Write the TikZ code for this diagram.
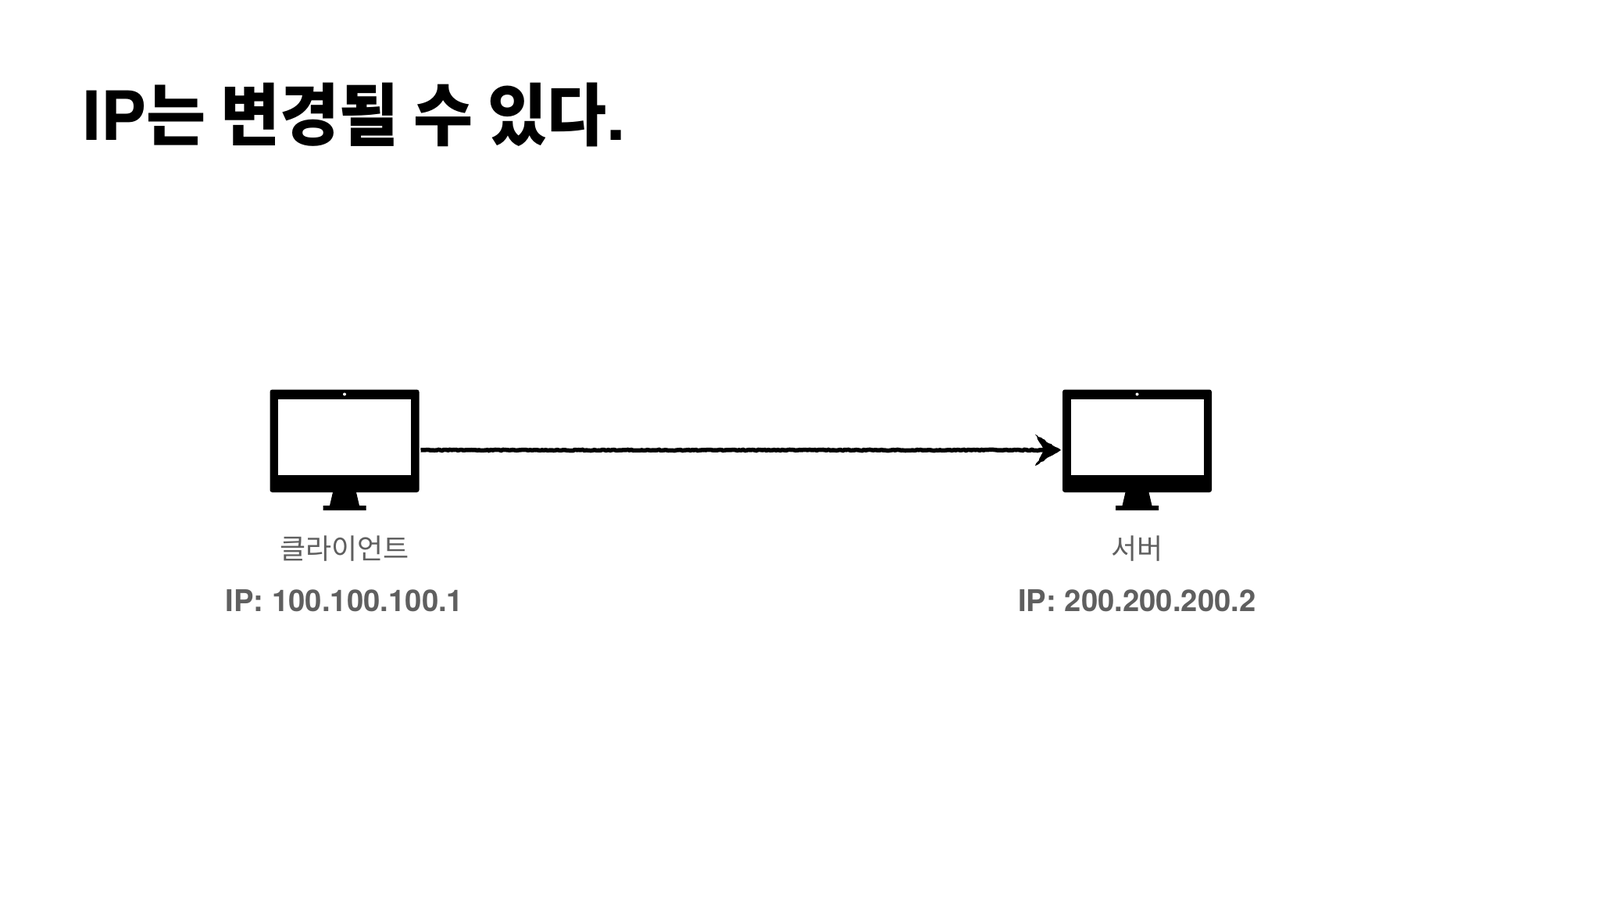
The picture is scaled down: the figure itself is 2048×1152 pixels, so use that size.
\documentclass[tikz,border=0pt]{standalone}
\usepackage{fontspec}
\setmainfont{TeX Gyre Heros}
\newfontfamily\cjk{Noto Sans CJK KR}
\newfontfamily\cjktight[FakeStretch=0.95]{Noto Sans CJK KR}
\usetikzlibrary{decorations.pathmorphing,calc}
\definecolor{labelgray}{HTML}{5F5F5F}
\tikzset{
  x=1pt,y=-1pt,
  monitorbox/.style={minimum width=191pt,minimum height=132pt,inner sep=0pt,outer sep=0pt},
  titletext/.style={anchor=base west,inner sep=0pt,font=\fontsize{87}{87}\selectfont\bfseries},
  nametext/.style={anchor=base,inner sep=0pt,text=labelgray,font=\fontsize{36}{36}\selectfont\cjk},
  iptext/.style={anchor=base,inner sep=0pt,text=labelgray,font=\fontsize{38.3}{38.3}\selectfont\bfseries},
  sketchline/.style={line width=5.5pt,black,decorate,decoration={random steps,segment length=2.5pt,amplitude=0.6pt}},
}
\newcommand{\monitorshape}[1]{%
  \begin{scope}[shift={(#1)}]
    \fill[black,rounded corners=3pt] (-95.5,-65.5) rectangle (95.5,66);
    \fill[white] (-85,-53) rectangle (85,43.5);
    \fill[white] (0,-59.5) circle (2);
    \fill[black] (-15,66) -- (15,66) -- (19,83) -- (27.5,83) -- (27.5,89) -- (-27.5,89) -- (-27.5,83) -- (-19,83) -- cycle;
  \end{scope}}
\begin{document}
\begin{tikzpicture}
\useasboundingbox (0,0) rectangle (2048,1152);
\fill[white] (0,0) rectangle (2048,1152);
\node[titletext] (title) at (105,179) {IP{\cjktight 는 변경될 수 있다}.};
\node[monitorbox] (client) at (441,564) {};
\node[monitorbox] (server) at (1455.5,564) {};
\monitorshape{441,564}
\monitorshape{1455.5,564}
\node[nametext] (clientname) at (441,715) {클라이언트};
\node[iptext] (clientip) at (441,782) {IP: 100.100.100.1};
\node[nametext] (servername) at (1455.5,715) {서버};
\node[iptext] (serverip) at (1455.5,782) {IP: 200.200.200.2};
\coordinate (tip) at ($(server.west)+(-2,12)$);
\draw[sketchline] ($(client.east)+(2,12)$) -- ($(tip)+(-16,0)$);
\fill[black,decorate,decoration={random steps,segment length=3pt,amplitude=0.7pt}]
  (tip) -- ($(tip)+(-33,-20)$) -- ($(tip)+(-21,0)$) -- ($(tip)+(-33,20)$) -- cycle;
\end{tikzpicture}
\end{document}
